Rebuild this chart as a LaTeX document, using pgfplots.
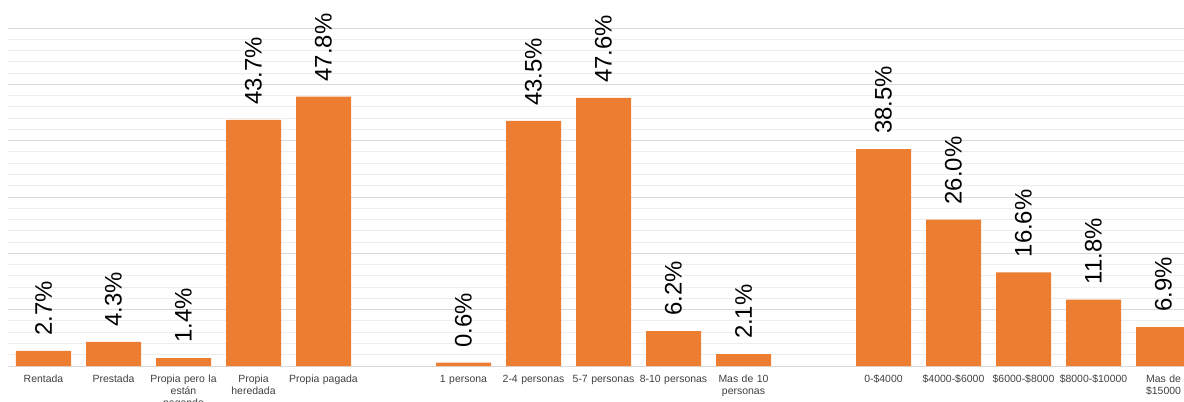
\documentclass[border=0pt]{standalone}
\usepackage{pgfplots}
\pgfplotsset{compat=1.18}
\usepackage{fontspec}
\setmainfont{Liberation Sans}
\definecolor{barorange}{HTML}{ED7D31}
\definecolor{majgrid}{HTML}{D9D9D9}
\definecolor{mingrid}{HTML}{EDEDED}
\definecolor{ticktext}{HTML}{404040}
\begin{document}
\begin{tikzpicture}
\begin{axis}[
  at={(0,0)}, anchor=south west,
  scale only axis, width=1190bp, height=338bp,
  xmin=-0.5, xmax=16.5, ymin=0, ymax=60,
  ybar, bar width=55bp, bar shift=0pt,
  axis line style={draw=none},
  clip=false,
  ytick={0,10,...,60}, yticklabels={},
  minor ytick={2,4,6,8,12,14,16,18,22,24,26,28,32,34,36,38,42,44,46,48,52,54,56,58},
  ymajorgrids, yminorgrids,
  major grid style={majgrid, line width=0.9bp},
  minor grid style={mingrid, line width=0.9bp},
  xtick={0,1,2,3,4,6,7,8,9,10,12,13,14,15,16},
  xticklabels={Rentada, Prestada, {Propia pero la\\están\\pagando}, Propia heredada, Propia pagada,
               1 persona, 2-4 personas, 5-7 personas, 8-10 personas, Mas de 10 personas,
               0-\$4000, \$4000-\$6000, \$6000-\$8000, \$8000-\$10000, Mas de \$15000},
  major tick length=0pt, minor tick length=0pt,
  xticklabel style={font=\fontsize{10.5}{12}\selectfont, text width=72bp, align=center, text=ticktext, yshift=-5.5bp},
  /pgf/number format/assume math mode=true,
  nodes near coords={\pgfmathprintnumber[fixed,fixed zerofill,precision=1]{\pgfplotspointmeta}\%},
  every node near coord/.append style={rotate=90, anchor=west, inner xsep=15bp, inner ysep=0pt, font=\fontsize{24}{28}\selectfont, text=black},
]
\addplot[fill=barorange, draw=none] coordinates {
  (0,2.7) (1,4.3) (2,1.4) (3,43.7) (4,47.8)
  (6,0.6) (7,43.5) (8,47.6) (9,6.2) (10,2.1)
  (12,38.5) (13,26.0) (14,16.6) (15,11.8) (16,6.9)
};
\end{axis}
\pgfresetboundingbox
\path[use as bounding box] (-8.5bp,-36bp) rectangle (1175.5bp,366bp);
\end{tikzpicture}
\end{document}
